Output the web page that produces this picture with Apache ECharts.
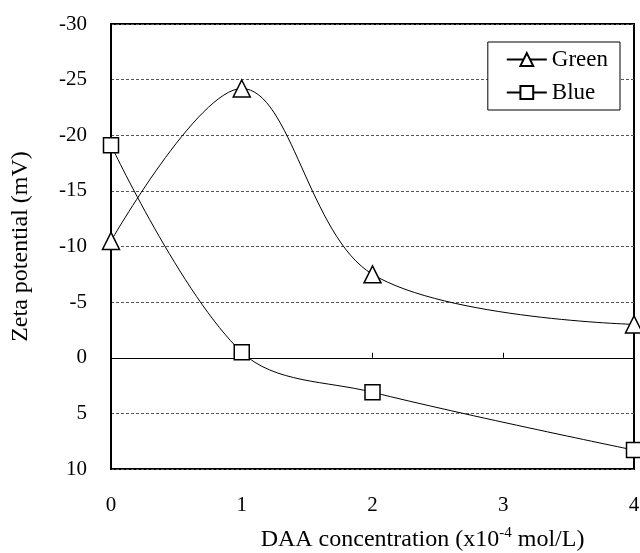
<!DOCTYPE html>
<html>
<head>
<meta charset="utf-8">
<script src="https://cdn.jsdelivr.net/npm/echarts@6/dist/echarts.min.js"></script>
<style>
  html, body { margin: 0; padding: 0; background: #fff; }
  #chart { width: 640px; height: 553px; }
</style>
</head>
<body>
<div id="chart"></div>
<script>
// DAA concentration (x10^-4 mol/L)
const concentration = [0, 1, 2, 4]
// zeta potential (mV)
const greenZeta = [-10.5, -24.2, -7.5, -3.0]
const blueZeta = [-19.1, -0.5, 3.1, 8.3]
const seriesNames = ['Green', 'Blue']

const FONT = '"Liberation Serif", "Times New Roman", serif'

const pair = (vals) => concentration.map((x, i) => [x, vals[i]])

const lineSeries = (name, vals, symbol, size) => ({
  name: name,
  type: 'line',
  smooth: 0.35,
  clip: false,
  data: pair(vals),
  symbol: symbol,
  symbolSize: size,
  showAllSymbol: true,
  lineStyle: { color: '#000', width: 1 },
  itemStyle: { color: '#fff', borderColor: '#000', borderWidth: 1.5 },
  emphasis: { disabled: true },
  z: 3
})

const chart = echarts.init(document.getElementById('chart'))

chart.setOption({
  animation: false,
  backgroundColor: '#fff',
  textStyle: { fontFamily: FONT, color: '#000' },
  grid: {
    left: 111, top: 24, right: 6, bottom: 84,
    outerBoundsMode: 'none',
    containLabel: false,
    show: true,
    borderColor: '#000',
    borderWidth: 2,
    backgroundColor: 'transparent'
  },
  legend: {
    data: seriesNames,
    orient: 'vertical',
    right: 20,
    top: 42,
    itemWidth: 40,
    itemHeight: 16,
    itemGap: 10,
    padding: [6, 12, 6, 18],
    borderColor: '#000',
    borderWidth: 1,
    backgroundColor: '#fff',
    textStyle: { fontFamily: FONT, fontSize: 23, color: '#000' }
  },
  xAxis: [
    {
      type: 'value',
      min: 0,
      max: 4,
      interval: 1,
      name: 'DAA concentration (x10{sup|-4} mol/L)',
      nameLocation: 'middle',
      nameGap: 57,
      nameTextStyle: {
        fontFamily: FONT,
        fontSize: 24,
        color: '#000',
        padding: [0, 0, 0, 100],
        rich: {
          sup: { fontFamily: FONT, fontSize: 15, color: '#000', verticalAlign: 'top', padding: [0, 0, 12, 0] }
        }
      },
      axisLine: { show: false, onZero: false },
      axisTick: { show: false },
      splitLine: { show: false },
      axisLabel: { fontFamily: FONT, fontSize: 21, color: '#000', margin: 26 }
    },
    {
      type: 'value',
      position: 'bottom',
      min: 0,
      max: 4,
      interval: 1,
      axisLine: { show: true, onZero: true, lineStyle: { color: '#000', width: 1 } },
      axisTick: { show: true, inside: true, length: 5, lineStyle: { color: '#000', width: 1 } },
      axisLabel: { show: false },
      splitLine: { show: false }
    }
  ],
  yAxis: {
    type: 'value',
    inverse: true,
    min: -30,
    max: 10,
    interval: 5,
    name: 'Zeta potential (mV)',
    nameLocation: 'middle',
    nameGap: 78,
    nameTextStyle: { fontFamily: FONT, fontSize: 24, color: '#000' },
    axisLine: { show: true, lineStyle: { color: '#000', width: 2 } },
    axisTick: { show: false },
    axisLabel: { fontFamily: FONT, fontSize: 21, color: '#000', margin: 24 },
    splitLine: { show: true, lineStyle: { color: '#555', width: 1, type: [3, 2] } }
  },
  series: [
    lineSeries(seriesNames[0], greenZeta, 'triangle', 17),
    lineSeries(seriesNames[1], blueZeta, 'rect', 15)
  ]
})
</script>
</body>
</html>
